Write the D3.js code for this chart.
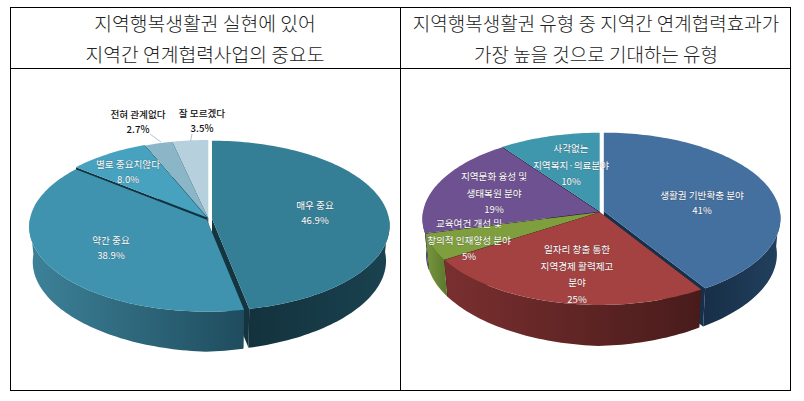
<!DOCTYPE html>
<html><head><meta charset="utf-8">
<script src="https://cdn.jsdelivr.net/npm/d3@7/dist/d3.min.js"></script>
<style>html,body{margin:0;padding:0;background:#fff}svg{display:block}</style>
</head><body><svg id="c" width="804" height="401"></svg>
<script>
const leftCategories = ["매우 중요","약간 중요","별로 중요치않다","전혀 관계없다","잘 모르겠다"];
const leftValues = [46.9,38.9,8.0,2.7,3.5];
const leftPercentLabels = ["46.9%","38.9%","8.0%","2.7%","3.5%"];
const rightCategories = ["생활권 기반확충 분야","일자리 창출 통한 지역경제 활력제고 분야","교육여건 개선 및 창의적 인재양성 분야","지역문화 융성 및 생태복원 분야","사각없는 지역복지·의료분야"];
const rightValues = [41,25,5,19,10];
const leftTitle = ["지역행복생활권 실현에 있어","지역간 연계협력사업의 중요도"];
const rightTitle = ["지역행복생활권 유형 중 지역간 연계협력효과가","가장 높을 것으로 기대하는 유형"];

const svg = d3.select("#c");
const defs = svg.append("defs");
const FONT = "'Noto Sans CJK KR','Noto Sans',sans-serif";

const grid = svg.append("g").attr("stroke","#000").attr("stroke-width",1).attr("fill","none");
grid.append("rect").attr("x",10.5).attr("y",7.5).attr("width",780).attr("height",383);
grid.append("line").attr("x1",10.5).attr("x2",790.5).attr("y1",68.5).attr("y2",68.5);
grid.append("line").attr("x1",400.5).attr("x2",400.5).attr("y1",7.5).attr("y2",390.5);
[[205,leftTitle,19.3],[596,rightTitle,19]].forEach(([x,t,fs])=>{
  t.forEach((s,i)=>svg.append("text").attr("x",x).attr("y",31+i*30.5).attr("text-anchor","middle")
    .attr("font-family",FONT).attr("font-weight",300).attr("font-size",fs).attr("fill","#222").text(s));
});

function pie3d(cfg){
  const g = svg.append("g");
  const angles = d3.pie().sort(null).value(d=>d)(cfg.values);
  const k=cfg.k, rx=cfg.rx, ry=cfg.ry;
  const proj=(a,r)=>{
    const X=Math.sin(a)*r, Y=-Math.cos(a)*r, w=1-k*Y;
    return [rx*X/w, ry*Y/w];
  };
  const line=d3.line();
  const steps=a=>d3.range(0,1.0001,1/Math.max(4,Math.ceil(a*40)));
  const items=angles.map((s,i)=>{
    const mid=(s.startAngle+s.endAngle)/2, ex=cfg.explode[i];
    return {i,s,ox:cfg.cx+Math.sin(mid)*ex,oy:cfg.cy-Math.cos(mid)*ex*0.7};
  });
  cfg.order.forEach(i=>{
    const it=items[i], s=it.s, c=cfg.colors[i];
    const sl=g.append("g").attr("transform",`translate(${it.ox},${it.oy})`);
    const span=s.endAngle-s.startAngle;
    const rim=steps(span).map(t=>proj(s.startAngle+t*span,1));
    const d=cfg.depth;
    const apex=[0,0];
    const bottom=p=>[p[0]*0.98,p[1]+d*(1-0.12*Math.abs(p[0])/rx)];
    const w1=[apex,rim[0],bottom(rim[0]),[0,d]];
    const w2=[apex,rim[rim.length-1],bottom(rim[rim.length-1]),[0,d]];
    [w1,w2].forEach(w=>sl.append("path").attr("d",line(w)+"Z").attr("fill",c.wall));
    const front=steps(span).map(t=>s.startAngle+t*span).filter(a=>Math.cos(a)<0.03);
    if(front.length>1){
      const pts=front.map(a=>proj(a,1));
      const poly=pts.concat(pts.slice().reverse().map(bottom));
      const id="g"+cfg.id+i;
      const gr=defs.append("linearGradient").attr("id",id).attr("gradientUnits","userSpaceOnUse")
        .attr("x1",d3.min(pts,p=>p[0])).attr("x2",d3.max(pts,p=>p[0])).attr("y1",0).attr("y2",0);
      gr.append("stop").attr("offset",0).attr("stop-color",c.sideL);
      gr.append("stop").attr("offset",1).attr("stop-color",c.sideR);
      sl.append("path").attr("d",line(poly)+"Z").attr("fill",`url(#${id})`);
    }
    sl.append("path").attr("d",line([apex].concat(rim))+"Z").attr("fill",c.top);
  });
}

pie3d({id:"a",values:leftValues,cx:208.5,cy:219,rx:177,ry:84.4,k:0.082,depth:40,
  explode:[3.5,2,2.5,1.5,1.5],order:[4,3,2,0,1],
  colors:[
   {top:"#357f96",sideL:"#13323d",sideR:"#1a4250",wall:"#14343f"},
   {top:"#3f93ae",sideL:"#3d8299",sideR:"#1f4c5e",wall:"#1c4252"},
   {top:"#47a2bf",sideL:"#2f7186",sideR:"#2f7186",wall:"#123240"},
   {top:"#8ab6c8",sideL:"#5d8495",sideR:"#5d8495",wall:"#3c5f6e"},
   {top:"#b6d1dd",sideL:"#88a3ad",sideR:"#88a3ad",wall:"#52707c"}
  ]});
pie3d({id:"b",values:rightValues,cx:600,cy:212,rx:176,ry:85,k:0.082,depth:41,
  explode:[4,0.5,0.5,1,1],order:[4,3,0,2,1],
  colors:[
   {top:"#44709f",sideL:"#172f48",sideR:"#22405e",wall:"#15304c"},
   {top:"#a44242",sideL:"#7a2f2f",sideR:"#481b1b",wall:"#3d1717"},
   {top:"#7f9f3f",sideL:"#78983e",sideR:"#5f7c30",wall:"#33451a"},
   {top:"#6e5190",sideL:"#533c6e",sideR:"#533c6e",wall:"#1e1430"},
   {top:"#3f97ae",sideL:"#2d7083",sideR:"#2d7083",wall:"#0f2e3c"}
  ]});

const leaders=svg.append("g").attr("stroke","#9aa").attr("stroke-width",.7).attr("fill","none");
[[[150,134],[161,142]],[[192,134],[190.5,141]]].forEach(l=>leaders.append("path").attr("d",d3.line()(l)));

function label(lines,x,y,col,lh,weight){
  lines.forEach((s,i)=>{
    const t=svg.append("text").attr("x",x).attr("y",y+i*lh).attr("text-anchor","middle")
      .attr("font-family",FONT).attr("font-size",9.6).attr("fill",col).attr("font-weight",weight||400).text(s);
    if(col==="#fff") t.attr("stroke","#333").attr("stroke-opacity",.3).attr("stroke-width",.8).attr("paint-order","stroke");
  });
}
label([leftCategories[0],leftPercentLabels[0]],315,209,"#fff",15);
label([leftCategories[1],leftPercentLabels[1]],111,244,"#fff",15);
label([leftCategories[2],leftPercentLabels[2]],128,168,"#fff",15);
label([leftCategories[3],leftPercentLabels[3]],138,118,"#111",15,500);
label([leftCategories[4],leftPercentLabels[4]],202,117,"#111",15,500);
label(["사각없는","지역복지·의료분야","10%"],571,152,"#fff",16.5);
label(["지역문화 융성 및","생태복원 분야","19%"],494,180,"#fff",16.5);
label(["생활권 기반확충 분야","41%"],702,199,"#fff",15);
label(["일자리 창출 통한","지역경제 활력제고","분야","25%"],577,253,"#fff",16.5);
label(["교육여건 개선 및","창의적 인재양성 분야","5%"],469,227,"#fff",16.5);
</script></body></html>
